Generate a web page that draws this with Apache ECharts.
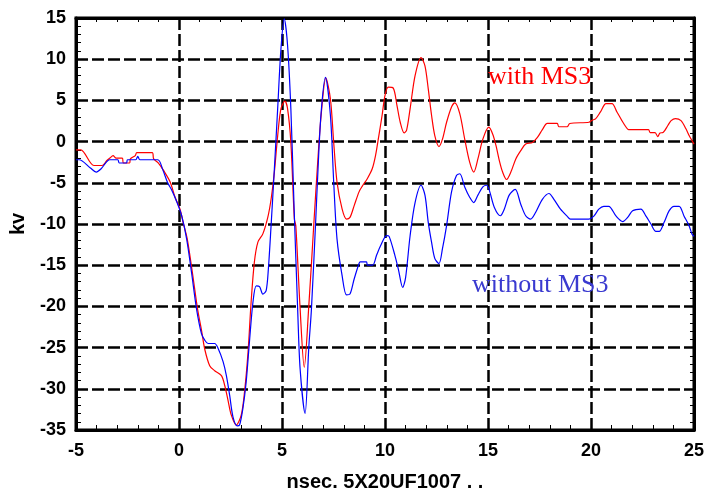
<!DOCTYPE html>
<html><head><meta charset="utf-8">
<script src="https://cdn.jsdelivr.net/npm/echarts@6/dist/echarts.min.js"></script>
<style>html,body{margin:0;padding:0;background:#fff}#c{width:707px;height:497px}</style>
</head><body><div id="c"></div>
<script>
const redT = [-5.0,-4.77,-4.13,-3.73,-3.5,-3.35,-3.2,-3.05,-2.75,-2.7,-2.4,-2.36,-2.12,-2.05,-1.3,-1.23,-1.0,-0.75,-0.43,-0.19,0.05,0.2,0.4,0.65,0.9,1.1,1.25,1.49,1.73,2.06,2.22,2.38,2.54,2.78,3.02,3.18,3.35,3.5,3.66,3.83,4.07,4.31,4.47,4.63,4.79,4.95,5.14,5.27,5.43,5.6,5.67,5.88,6.08,6.3,6.56,6.72,6.9,7.13,7.35,7.51,7.67,7.92,8.13,8.3,8.5,8.74,8.9,9.14,9.38,9.54,9.7,9.86,10.0,10.16,10.4,10.58,10.74,10.93,11.05,11.22,11.46,11.75,11.94,12.1,12.26,12.42,12.62,12.79,12.99,13.23,13.39,13.63,13.87,14.11,14.31,14.51,14.75,15.04,15.23,15.39,15.55,15.71,15.9,16.11,16.35,16.59,16.83,17.16,17.4,17.64,17.88,18.36,18.44,18.84,18.97,19.9,20.06,20.22,20.46,20.73,21.02,21.26,21.5,21.69,21.82,22.79,22.87,23.11,23.24,23.35,23.5,23.73,23.89,24.1,24.37,24.61,24.77,25.0];
const redV = [-1.0,-1.0,-2.9,-2.9,-2.3,-2.0,-1.7,-2.0,-2.0,-2.6,-2.6,-2.1,-1.7,-1.35,-1.35,-2.1,-2.6,-3.5,-4.9,-6.75,-8.2,-9.8,-11.8,-15.9,-20.3,-23.0,-25.2,-27.2,-27.8,-28.4,-29.6,-31.4,-33.2,-34.4,-33.2,-30.4,-25.6,-19.5,-14.6,-12.2,-11.2,-9.2,-7.0,-3.7,0.7,4.0,4.9,4.0,-0.1,-9.4,-10.2,-20.3,-27.4,-20.0,-9.4,-3.0,3.2,7.7,5.2,-0.1,-4.9,-8.2,-9.4,-9.2,-7.8,-6.1,-5.4,-4.5,-3.3,-1.7,0.7,3.2,5.6,6.6,6.5,4.4,2.35,1.05,1.4,4.0,8.0,10.2,9.2,6.4,3.2,0.7,-0.6,0.3,2.35,4.2,4.7,3.4,0.3,-2.5,-3.7,-2.1,0.3,1.75,0.9,-0.5,-2.3,-3.7,-4.6,-3.7,-2.1,-1.1,-0.3,-0.1,0.5,1.45,2.2,2.2,1.8,1.8,2.2,2.35,2.6,2.75,3.6,4.6,4.6,3.6,2.55,1.8,1.45,1.45,1.1,1.1,0.6,1.05,1.1,1.95,2.55,2.8,2.55,1.55,0.7,-0.3];
const blueT = [-5.0,-4.85,-4.3,-4.02,-3.78,-3.53,-3.37,-2.97,-2.9,-2.55,-2.5,-2.1,-2.0,-1.9,-1.03,-0.79,-0.55,-0.35,-0.11,0.13,0.37,0.61,0.85,1.09,1.25,1.41,1.73,1.9,2.14,2.3,2.46,2.62,2.83,2.94,3.1,3.26,3.42,3.59,3.75,3.91,4.07,4.23,4.34,4.47,4.63,4.79,4.95,5.11,5.27,5.43,5.59,5.76,5.88,6.12,6.3,6.43,6.64,6.72,6.89,7.11,7.35,7.51,7.67,7.92,8.13,8.3,8.5,8.74,8.8,9.1,9.15,9.4,9.59,9.79,10.08,10.2,10.48,10.65,10.86,11.0,11.22,11.46,11.75,11.94,12.1,12.26,12.42,12.62,12.79,12.99,13.23,13.47,13.63,13.87,14.11,14.31,14.51,14.75,14.94,15.07,15.31,15.6,15.79,16.03,16.32,16.59,16.83,17.07,17.31,17.64,17.96,18.2,18.52,18.84,19.0,19.9,20.14,20.38,20.62,20.86,21.22,21.54,21.78,22.02,22.42,22.67,22.91,23.15,23.31,23.55,23.79,24.03,24.28,24.52,24.76,24.9,25.0];
const blueV = [-2.2,-2.2,-3.2,-3.7,-3.3,-2.5,-2.2,-2.2,-2.6,-2.6,-2.2,-2.2,-1.8,-2.2,-2.2,-3.4,-5.0,-5.9,-7.3,-9.0,-11.8,-15.9,-20.3,-23.3,-24.1,-24.5,-24.5,-25.1,-26.7,-28.4,-30.8,-33.4,-34.5,-34.4,-32.4,-29.2,-24.3,-19.5,-17.5,-17.6,-18.5,-18.1,-15.4,-10.2,-3.3,4.0,11.3,14.9,11.7,4.0,-8.2,-20.3,-27.6,-33.0,-25.0,-20.3,-9.4,-4.9,3.2,7.8,3.2,-4.9,-11.8,-16.3,-18.6,-18.5,-16.7,-14.8,-14.6,-14.6,-15.0,-15.0,-13.8,-12.6,-11.4,-11.5,-13.8,-15.5,-17.7,-16.5,-11.4,-7.4,-5.3,-6.5,-9.8,-12.2,-14.2,-14.8,-13.0,-10.2,-6.1,-4.1,-3.9,-5.5,-6.75,-7.4,-6.5,-5.5,-5.3,-5.95,-8.0,-9.0,-8.2,-6.5,-5.8,-7.6,-9.0,-9.4,-8.6,-7.0,-6.3,-7.0,-8.2,-9.05,-9.4,-9.4,-9.05,-8.2,-7.85,-7.85,-9.05,-9.7,-9.2,-8.4,-8.2,-9.05,-10.0,-10.9,-10.9,-9.8,-8.4,-7.85,-7.85,-9.05,-10.2,-11.2,-11.5];
const xTicks = [-5, 0, 5, 10, 15, 20, 25];
const yTicks = [-35, -30, -25, -20, -15, -10, -5, 0, 5, 10, 15];
const seriesNames = ['with MS3', 'without MS3'];
const xName = 'nsec. 5X20UF1007 . .';
const yName = 'kv';

const zip = (a, b) => a.map((t, i) => [t, b[i]]);
const chart = echarts.init(document.getElementById('c'), null, {renderer: 'canvas'});
const split = {show: true, lineStyle: {color: '#000', width: 2.5, type: [12, 4]}};
const minor = {show: true, splitNumber: 5, length: 5, lineStyle: {color: '#000', width: 1}};
const lbl = {color: '#000', fontFamily: 'Liberation Sans, Arial, sans-serif', fontWeight: 'bold', fontSize: 18};
const xBase = {type: 'value', min: xTicks[0], max: xTicks[xTicks.length - 1], interval: 5};
const yBase = {type: 'value', min: yTicks[0], max: yTicks[yTicks.length - 1], interval: 5};
const frameLine = {show: true, onZero: false, lineStyle: {color: '#000', width: 3}};
chart.setOption({
  animation: false,
  backgroundColor: '#fff',
  grid: {left: 75, right: 12, top: 18, bottom: 65, show: true, borderColor: '#000', borderWidth: 3, backgroundColor: 'transparent'},
  xAxis: [
    Object.assign({}, xBase, {position: 'bottom', name: xName, nameLocation: 'middle', nameGap: 42,
      nameTextStyle: {color: '#000', fontFamily: 'Liberation Sans, Arial, sans-serif', fontWeight: 'bold', fontSize: 20},
      axisLine: frameLine,
      axisTick: {show: true, inside: true, length: 6, lineStyle: {color: '#000', width: 1}},
      minorTick: minor, splitLine: split,
      axisLabel: Object.assign({margin: 12}, lbl)}),
    Object.assign({}, xBase, {position: 'top',
      axisLine: frameLine,
      axisTick: {show: false, inside: true}, minorTick: Object.assign({}, minor, {length: 4}),
      splitLine: {show: false}, axisLabel: {show: false}})
  ],
  yAxis: [
    Object.assign({}, yBase, {position: 'left', name: yName, nameLocation: 'middle', nameGap: 48,
      nameTextStyle: {color: '#000', fontFamily: 'Liberation Sans, Arial, sans-serif', fontWeight: 'bold', fontSize: 20},
      axisLine: frameLine,
      axisTick: {show: true, inside: true, length: 6, lineStyle: {color: '#000', width: 1}},
      minorTick: minor, splitLine: split,
      axisLabel: Object.assign({margin: 10}, lbl)}),
    Object.assign({}, yBase, {position: 'right',
      axisLine: frameLine,
      axisTick: {show: false, inside: true}, minorTick: Object.assign({}, minor, {length: 4}),
      splitLine: {show: false}, axisLabel: {show: false}})
  ],
  series: [
    {name: seriesNames[0], type: 'line', data: zip(redT, redV), showSymbol: false, symbol: 'none', smooth: 0.3,
      lineStyle: {color: '#ff0000', width: 1.2}, z: 3},
    {name: seriesNames[1], type: 'line', data: zip(blueT, blueV), showSymbol: false, symbol: 'none', smooth: 0.3,
      lineStyle: {color: '#0000ff', width: 1.2}, z: 4}
  ],
  graphic: [
    {type: 'text', left: 488, top: 64, z: 10, style: {text: seriesNames[0], fill: '#ff0000', font: '26px "Liberation Serif", "Times New Roman", serif'}},
    {type: 'text', left: 472, top: 272, z: 10, style: {text: seriesNames[1], fill: '#3a3ad0', font: '26px "Liberation Serif", "Times New Roman", serif'}}
  ]
});
</script></body></html>
